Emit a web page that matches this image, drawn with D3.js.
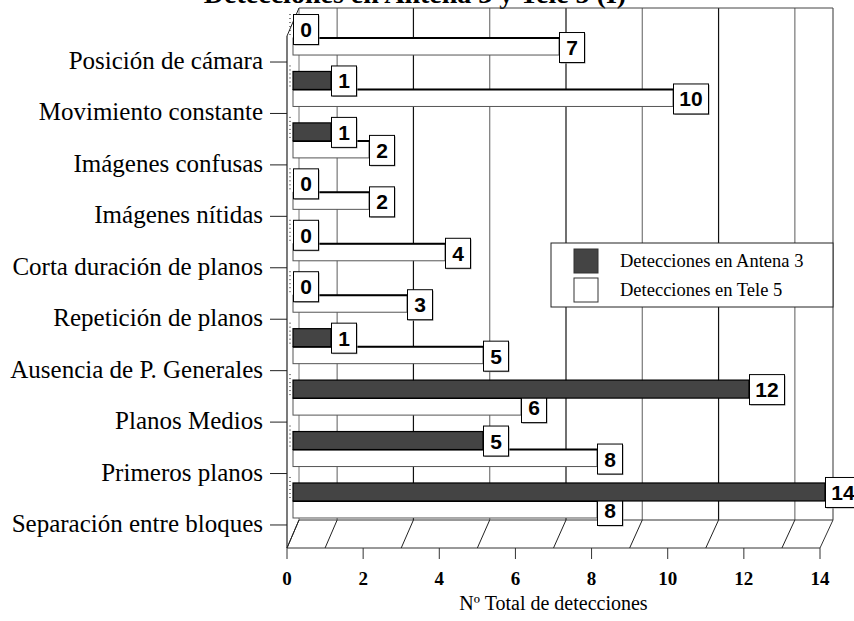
<!DOCTYPE html>
<meta charset="utf-8">
<head>
<title>Detecciones en Antena 3 y Tele 5</title>
<style>
body { margin: 0; background: #fff; }
svg { display: block; }
.cat { font: 25px "Liberation Serif", "Times New Roman", serif; fill: #000; }
.tick-lbl { font: bold 19px "Liberation Serif", serif; fill: #000; }
.axis-title { font: 20px "Liberation Serif", serif; fill: #000; }
.legend-lbl { font: 18.5px "Liberation Serif", serif; fill: #000; }
.val { font: bold 21px "Liberation Sans", Arial, sans-serif; fill: #000; }
.title { font: bold 28px "Liberation Serif", serif; fill: #000; }
</style>
</head>
<body>
<script src="https://cdn.jsdelivr.net/npm/d3@7"></script>
<div id="chart"></div>
<script>

var categories = ["Posición de cámara", "Movimiento constante", "Imágenes confusas",
  "Imágenes nítidas", "Corta duración de planos", "Repetición de planos",
  "Ausencia de P. Generales", "Planos Medios", "Primeros planos", "Separación entre bloques"];
var antena3 = [0, 1, 1, 0, 0, 0, 1, 12, 5, 14];
var tele5 = [7, 10, 2, 2, 4, 3, 5, 6, 8, 8];
var xTicks = [0, 2, 4, 6, 8, 10, 12, 14];
var gridValues = [1, 3, 5, 7, 9, 11, 13];
var seriesNames = ["Detecciones en Antena 3", "Detecciones en Tele 5"];

var width = 854, height = 621;
var depthX = 12, depthY = 28;   // 3d offset from front plane to back wall
var floorFront = 548, floorBack = floorFront - depthY, wallTop = 8;

var xFront = d3.scaleLinear().domain([0, 14]).range([287, 820]);
var xBack = d3.scaleLinear().domain([0, 14]).range([287 + depthX, 820 + depthX + 1]);
var xBar = d3.scaleLinear().domain([0, 14]).range([293, 825]);

var y = d3.scaleBand().domain(categories)
    .range([12.3, 526.7])
    .paddingInner(0.3)
    .paddingOuter(0.15);
var half = y.bandwidth() / 2;

var svg = d3.select('#chart').append('svg')
    .attr('width', width)
    .attr('height', height);

// title, cropped at the top edge as in the original
svg.append('text').attr('class', 'title')
    .attr('x', 415).attr('y', 3)
    .attr('text-anchor', 'middle')
    .text('Detecciones en Antena 3 y Tele 5 (I)');

// back wall
var wall = svg.append('g');
wall.selectAll('.grid')
    .data(gridValues)
    .enter().append('line')
    .attr('x1', d => xBack(d)).attr('x2', d => xBack(d))
    .attr('y1', wallTop).attr('y2', floorBack)
    .attr('stroke', (d, i) => i % 2 ? '#111' : '#777')
    .attr('stroke-width', 1.2);
wall.append('line')
    .attr('x1', xBack(0)).attr('x2', xBack(14))
    .attr('y1', wallTop).attr('y2', wallTop)
    .attr('stroke', '#444');
wall.append('line')
    .attr('x1', xBack(14)).attr('x2', xBack(14))
    .attr('y1', wallTop).attr('y2', floorBack)
    .attr('stroke', '#555').attr('stroke-width', 1.2);
wall.append('line')
    .attr('x1', xBack(0)).attr('x2', xBack(0))
    .attr('y1', wallTop).attr('y2', floorBack)
    .attr('stroke', '#777');

// floor
var floor = svg.append('g');
floor.append('path')
    .attr('d', 'M' + xFront(0) + ',' + floorFront + 'L' + xFront(14) + ',' + floorFront +
      'L' + xBack(14) + ',' + floorBack + 'L' + xBack(0) + ',' + floorBack + 'Z')
    .attr('fill', '#fff').attr('stroke', '#333');
floor.selectAll('.fl')
    .data([0].concat(gridValues))
    .enter().append('line')
    .attr('x1', d => xFront(d)).attr('y1', floorFront)
    .attr('x2', d => xBack(d)).attr('y2', floorBack)
    .attr('stroke', '#222');

// left wall edges
svg.append('line')
    .attr('x1', xFront(0)).attr('y1', wallTop + depthY)
    .attr('x2', xBack(0)).attr('y2', wallTop)
    .attr('stroke', '#222');
svg.append('line')
    .attr('x1', xFront(0)).attr('x2', xFront(0))
    .attr('y1', wallTop + depthY).attr('y2', floorFront)
    .attr('stroke', '#222').attr('stroke-width', 1.2);

// category ticks and labels on the front plane
svg.selectAll('.ytick')
    .data(categories)
    .enter().append('line')
    .attr('x1', 270).attr('x2', xFront(0))
    .attr('y1', d => y(d) + half + 24).attr('y2', d => y(d) + half + 24)
    .attr('stroke', '#222');
svg.selectAll('.cat')
    .data(categories)
    .enter().append('text')
    .attr('class', 'cat')
    .attr('x', 263)
    .attr('y', d => y(d) + half + 31)
    .attr('text-anchor', 'end')
    .text(d => d);

// x axis ticks
svg.selectAll('.xtick')
    .data(xTicks)
    .enter().append('line')
    .attr('x1', d => xFront(d)).attr('x2', d => xFront(d))
    .attr('y1', floorFront).attr('y2', floorFront + 11)
    .attr('stroke', '#333');
svg.selectAll('.tick-lbl')
    .data(xTicks)
    .enter().append('text')
    .attr('class', 'tick-lbl')
    .attr('x', d => xFront(d))
    .attr('y', 585)
    .attr('text-anchor', 'middle')
    .text(d => d);
svg.append('text').attr('class', 'axis-title')
    .attr('x', (xFront(0) + xFront(14)) / 2)
    .attr('y', 610)
    .attr('text-anchor', 'middle')
    .text('Nº Total de detecciones');

// legend
var legend = svg.append('g');
legend.append('rect')
    .attr('x', 551).attr('y', 243).attr('width', xBack(14) - 551).attr('height', 64)
    .attr('fill', '#fff').attr('stroke', '#222');
legend.selectAll('.sw')
    .data(seriesNames)
    .enter().append('rect')
    .attr('x', 574).attr('y', (d, i) => 249 + i * 29)
    .attr('width', 24).attr('height', 24)
    .attr('fill', (d, i) => i ? '#fff' : '#444')
    .attr('stroke', '#333');
legend.selectAll('.legend-lbl')
    .data(seriesNames)
    .enter().append('text')
    .attr('class', 'legend-lbl')
    .attr('x', 620).attr('y', (d, i) => 267 + i * 29)
    .text(d => d);

function valueBox(g, v, x, cy) {
  var w = v >= 10 ? 35 : 25, h = 30;
  g.append('rect')
    .attr('x', x + 1.5).attr('y', cy - h / 2 + 1.5)
    .attr('width', w).attr('height', h)
    .attr('fill', '#999');
  g.append('rect')
    .attr('x', x + 0.5).attr('y', cy - h / 2 + 0.5)
    .attr('width', w).attr('height', h)
    .attr('fill', '#fff').attr('stroke', '#000');
  g.append('text').attr('class', 'val')
    .attr('x', x + 0.5 + w / 2).attr('y', cy + 8)
    .attr('text-anchor', 'middle')
    .text(v);
}

// Tele 5 bars (lower half of each band)
var t5 = svg.append('g');
t5.selectAll('rect')
    .data(tele5)
    .enter().append('rect')
    .attr('x', xBar(0))
    .attr('y', (d, i) => y(categories[i]) + half)
    .attr('width', d => xBar(d) - xBar(0))
    .attr('height', half - 1)
    .attr('fill', '#fff').attr('stroke', '#555');
t5.selectAll('line')
    .data(tele5)
    .enter().append('line')
    .attr('x1', xBar(0)).attr('x2', d => xBar(d))
    .attr('y1', (d, i) => y(categories[i]) + half)
    .attr('y2', (d, i) => y(categories[i]) + half)
    .attr('stroke', '#000').attr('stroke-width', 2);
tele5.forEach(function (v, i) {
  valueBox(t5, v, xBar(v), y(categories[i]) + half * 1.5);
});

// Antena 3 bars (upper half of each band)
var a3 = svg.append('g');
a3.selectAll('.side')
    .data(antena3)
    .enter().append('line')
    .attr('x1', 290).attr('x2', 290)
    .attr('y1', (d, i) => y(categories[i]) - 6)
    .attr('y2', (d, i) => y(categories[i]) + half)
    .attr('stroke', '#000').attr('stroke-dasharray', '1,3');
a3.selectAll('rect')
    .data(antena3)
    .enter().append('rect')
    .attr('x', xBar(0))
    .attr('y', (d, i) => y(categories[i]))
    .attr('width', d => xBar(d) - xBar(0))
    .attr('height', half)
    .attr('fill', '#444').attr('stroke', '#000').attr('stroke-width', 1.2);
antena3.forEach(function (v, i) {
  valueBox(a3, v, xBar(v), y(categories[i]) + half * 0.5);
});

</script>
</body>
